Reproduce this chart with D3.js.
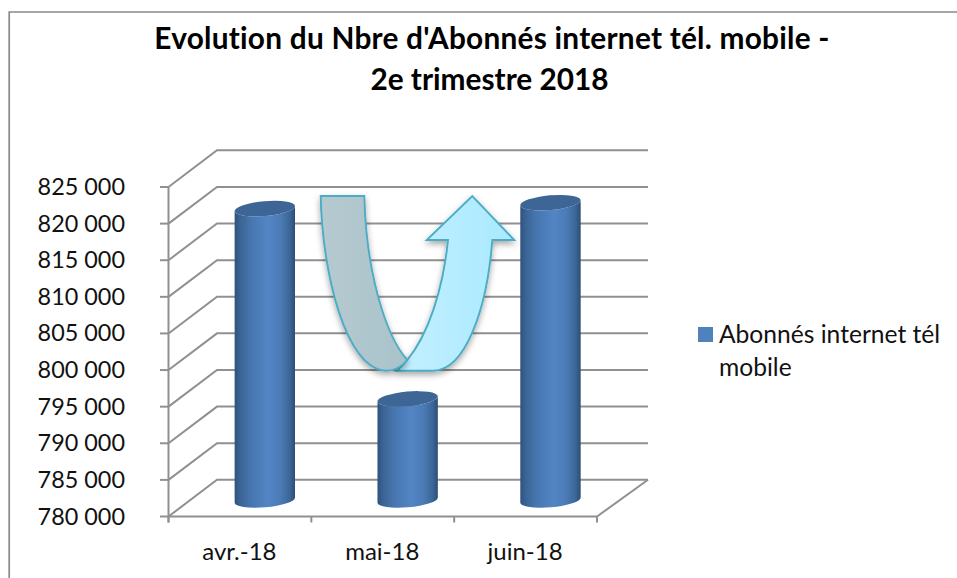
<!DOCTYPE html>
<html><head><meta charset="utf-8">
<script src="https://cdn.jsdelivr.net/npm/d3@7"></script>
<style>html,body{margin:0;padding:0;background:#fff}svg{display:block}text{font-family:Lato,Carlito,sans-serif;fill:#111;font-variant-ligatures:none}</style>
</head><body><svg id="c" width="957" height="578"></svg>
<script>
const categories=["avr.-18","mai-18","juin-18"];
const values=[819800,793800,820600];
const yTicks=d3.range(780000,825001,5000);
const titleLines=["Evolution du Nbre d'Abonnés internet tél. mobile -","2e trimestre 2018"];
const legendLines=["Abonnés internet tél","mobile"];

const svg=d3.select("#c");
const defs=svg.append("defs");
const grad=(id,stops)=>{const g=defs.append("linearGradient").attr("id",id);
  stops.forEach(([o,c])=>g.append("stop").attr("offset",o).attr("stop-color",c));};
grad("cyl",[[0,"#2f5280"],[.1,"#3c6596"],[.3,"#4878b2"],[.55,"#5385c5"],[.75,"#4c7cb7"],[.92,"#3b6595"],[1,"#2c4d75"]]);
grad("arrL",[[0,"#b6c9d0"],[1,"#a9c3cb"]]);
grad("arrR",[[0,"#c3f0ff"],[1,"#a9e9ff"]]);
const f=defs.append("filter").attr("id","sh").attr("x","-20%").attr("y","-20%").attr("width","140%").attr("height","140%");
f.append("feDropShadow").attr("dx",0).attr("dy",3).attr("stdDeviation",3).attr("flood-color","#000").attr("flood-opacity",.35);

// frame
svg.append("path").attr("d","M9.2,578V12H957").attr("fill","none").attr("stroke","#8a8a8a").attr("stroke-width",1.7);

// scales
const y=d3.scaleLinear().domain([780000,825000]).range([516.5,187]);
const x=d3.scaleBand().domain(categories).range([168.5,597]);
const depthX=48.5,depthY=-36.7;
const grid=svg.append("g").attr("fill","none").attr("stroke","#909090").attr("stroke-width",2);
grid.selectAll("path.w").data(yTicks).join("path").attr("class","w")
  .attr("d",v=>`M168.5,${y(v)}l${depthX},${depthY}H648`);
grid.append("path").attr("d",`M168.5,${y(825000)}V${y(780000)+6}`);
grid.append("path").attr("d",`M597,${y(780000)}l${depthX+2.5},${depthY}`);
grid.append("path").attr("d",`M168.5,${y(780000)}H597`);
grid.selectAll("path.tick").data(yTicks).join("path").attr("class","tick").attr("d",v=>`M160,${y(v)}h8.5`);
grid.selectAll("path.xt").data([...categories.map(c=>x(c)),597]).join("path").attr("class","xt")
  .attr("d",p=>`M${p},${y(780000)}v6`);

// y labels
svg.append("g").selectAll("text").data(yTicks).join("text")
  .attr("x",125).attr("y",v=>y(v)+8).attr("text-anchor","end").attr("font-size",23.4)
  .text(v=>d3.format(",")(v).replace(",","\u00a0"));
// x labels
svg.append("g").selectAll("text").data(categories).join("text")
  .attr("x",c=>x(c)+x.bandwidth()/2-.5).attr("y",560).attr("text-anchor","middle").attr("font-size",24).text(c=>c);

// cylinders
const rx=30.3,ry=7.4,rot=-5,offX=24.9,offY=-16.5;
const cyl=svg.append("g").selectAll("g").data(categories).join("g");
cyl.append("path").attr("fill","url(#cyl)").attr("d",(c,i)=>{
  const cx=x(c)+x.bandwidth()/2+offX, by=y(780000)+offY, ty=y(values[i])+offY;
  const sy=rx*Math.sin(rot*Math.PI/180), cy=rx*Math.cos(rot*Math.PI/180);
  return `M${cx-cy},${ty-sy}L${cx-cy},${by-sy}A${rx},${ry} ${rot} 0 0 ${cx+cy},${by+sy}L${cx+cy},${ty+sy}A${rx},${ry} ${rot} 0 1 ${cx-cy},${ty-sy}Z`;
});
cyl.append("ellipse").attr("fill","#3d6696")
  .attr("rx",rx).attr("ry",ry)
  .attr("transform",(c,i)=>`translate(${x(c)+x.bandwidth()/2+offX},${y(values[i])+offY}) rotate(${rot})`);

// annotation arrow
const arrow=svg.append("g").attr("stroke","#4bacc6").attr("stroke-width",1.9).attr("stroke-linejoin","miter");
arrow.append("path").attr("fill","url(#arrR)").attr("filter","url(#sh)")
  .attr("d","M396.7,370.7Q402,366 407.3,360C428,335 443,290 448,240H426.7L472.3,196L514.3,240H492.3C487,310 465,370.7 433,370.7Z");
arrow.append("path").attr("fill","url(#arrL)").attr("filter","url(#sh)")
  .attr("d","M320.7,196H364.3C366,270 385,335 407.3,360Q398,370.7 387,370.7C345,370.7 322,270 320.7,196Z");

// title
svg.append("g").selectAll("text").data(titleLines).join("text")
  .attr("x",(d,i)=>i?489.5:492).attr("y",(d,i)=>49+i*41).attr("text-anchor","middle")
  .attr("font-size",29.8).attr("letter-spacing",(d,i)=>i?0:.24).attr("font-weight",700).attr("style","fill:#000").text(d=>d);

// legend
svg.append("rect").attr("x",698).attr("y",327).attr("width",15).attr("height",15).attr("fill","#4f81bd");
svg.append("g").selectAll("text").data(legendLines).join("text")
  .attr("x",719).attr("y",(d,i)=>343+i*33).attr("font-size",24.6).text(d=>d);
</script></body></html>
